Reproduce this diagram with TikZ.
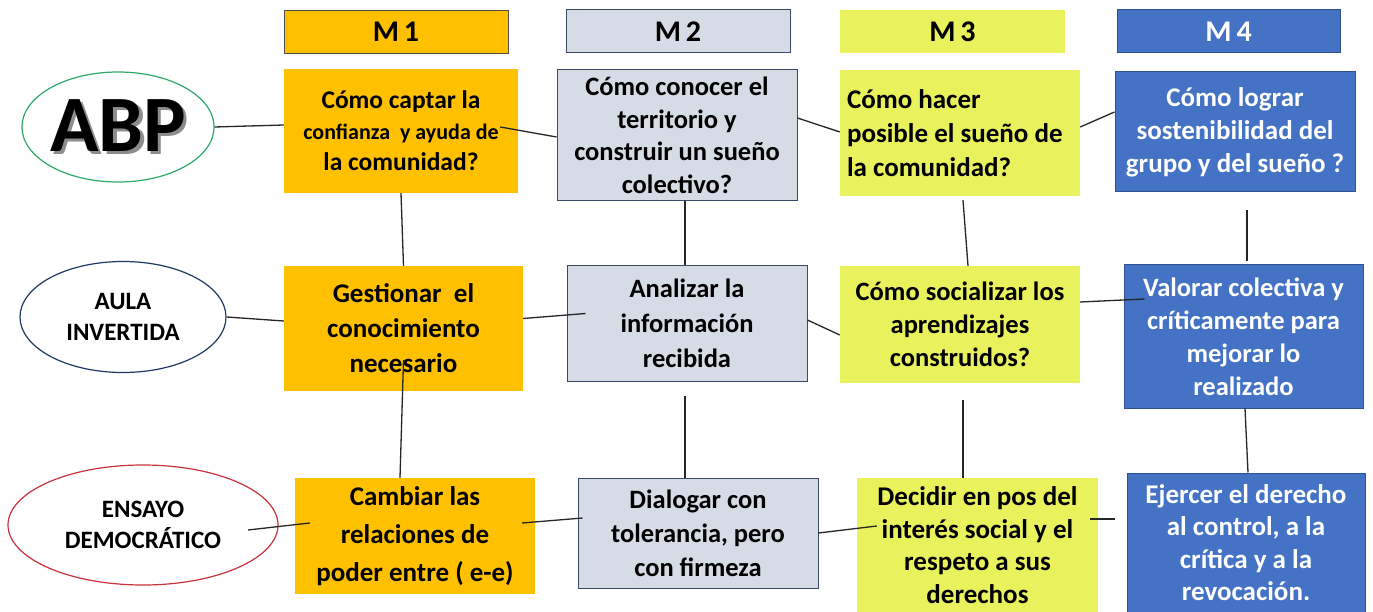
\documentclass[tikz,border=0pt]{standalone}
\usepackage{fontspec}
\setmainfont{Carlito}
\usetikzlibrary{shapes.geometric,calc}
\definecolor{orng}{HTML}{FFC000}
\definecolor{gryb}{HTML}{D6DCE5}
\definecolor{grybd}{HTML}{3B4A66}
\definecolor{ylw}{HTML}{E9F25C}
\definecolor{blu}{HTML}{4472C4}
\definecolor{blud}{HTML}{2F528F}
\definecolor{grn}{HTML}{2EA86A}
\definecolor{nvy}{HTML}{1F3864}
\definecolor{rd}{HTML}{C8323A}
\tikzset{
  bx/.style={rectangle, inner sep=0pt, align=center, font=\bfseries\fontsize{26.5}{33}\selectfont},
  hd/.style={bx, minimum height=43pt, font=\bfseries\fontsize{30}{32}\selectfont},
  orb/.style={fill=orng},
  grb/.style={fill=gryb, draw=grybd, line width=1pt},
  ylb/.style={fill=ylw},
  blb/.style={fill=blu, draw=blud, line width=1pt, text=white},
  ell/.style={ellipse, inner sep=0pt, line width=1.2pt, fill=white, align=center, font=\bfseries\fontsize{25}{31}\selectfont},
  cn/.style={line width=1.3pt, draw=black!85}
}
\begin{document}
\begin{tikzpicture}[x=1pt,y=-1pt]
\useasboundingbox (0,0) rectangle (1373,612);
% headers
\node[hd, orb, draw=black!70, line width=0.8pt, minimum width=224pt] (h1) at (396,31.5) {M\,1};
\node[hd, grb, minimum width=224pt] (h2) at (678,31.5) {M\,2};
\node[hd, ylb, minimum width=225pt] (h3) at (952.5,31.5) {M\,3};
\node[hd, blb, minimum width=223pt] (h4) at (1228.5,31.5) {M\,4};
% row 1
\node[bx, orb, minimum width=234pt, minimum height=124pt, font=\bfseries\fontsize{25.5}{31}\selectfont] (a1) at (401,131) {Cómo captar la\\{\fontsize{22}{31}\selectfont confianza \ y ayuda de}\\la comunidad?};
\node[bx, grb, minimum width=240pt, minimum height=131pt, font=\bfseries\fontsize{26.5}{32.5}\selectfont] (b1) at (677,135.5) {Cómo conocer el\\territorio y\\construir un sueño\\colectivo?};
\node[bx, ylb, minimum width=240pt, minimum height=126pt, text width=226pt, align=flush left, font=\bfseries\fontsize{27}{34}\selectfont] (c1) at (960,133) {Cómo hacer\\posible el sueño de\\la comunidad?};
\node[bx, blb, minimum width=240pt, minimum height=120pt, font=\bfseries\fontsize{27}{33}\selectfont] (d1) at (1235,132) {Cómo lograr\\sostenibilidad del\\grupo y del sueño ?};
% row 2
\node[bx, orb, minimum width=239pt, minimum height=125pt, font=\bfseries\fontsize{27}{35}\selectfont] (a2) at (403.5,328.5) {Gestionar \ el\\conocimiento\\necesario};
\node[bx, grb, minimum width=240pt, minimum height=115pt, font=\bfseries\fontsize{26.5}{35}\selectfont] (b2) at (687,323.5) {Analizar la\\información\\recibida};
\node[bx, ylb, minimum width=240pt, minimum height=117pt, font=\bfseries\fontsize{26.5}{33}\selectfont] (c2) at (960,324.5) {Cómo socializar los\\aprendizajes\\construidos?};
\node[bx, blb, minimum width=239pt, minimum height=143pt, font=\bfseries\fontsize{26.5}{33}\selectfont] (d2) at (1243.5,336.5) {Valorar colectiva y\\críticamente para\\mejorar lo\\realizado};
% row 3
\node[bx, orb, minimum width=240pt, minimum height=116pt, font=\bfseries\fontsize{27}{38}\selectfont] (a3) at (415,536) {Cambiar las\\relaciones de\\poder entre ( e-e)};
\node[bx, grb, minimum width=240pt, minimum height=110pt, font=\bfseries\fontsize{26.5}{34}\selectfont] (b3) at (698,533) {Dialogar con\\tolerancia, pero\\con firmeza};
\node[bx, ylb, minimum width=241pt, minimum height=134pt, font=\bfseries\fontsize{27}{32.5}\selectfont] (c3) at (977.5,545) {Decidir en pos del\\interés social y el\\respeto a sus\\derechos};
\node[bx, blb, minimum width=238pt, minimum height=139pt, font=\bfseries\fontsize{27}{32.5}\selectfont] (d3) at (1246,542.5) {Ejercer el derecho\\al control, a la\\crítica y a la\\revocación.};
% ellipses
\node[ell, draw=grn, minimum width=180pt, minimum height=110pt, font=\bfseries\fontsize{80}{80}\selectfont] (abp) at (118,127) {\makebox[0pt][l]{\hspace{3.5pt}\raisebox{-3.5pt}{\textcolor{black!45}{ABP}}}ABP};
\node[ell, draw=nvy, minimum width=206pt, minimum height=111pt] (aula) at (123,317) {AULA\\INVERTIDA};
\node[ell, draw=rd, minimum width=270pt, minimum height=120pt] (ens) at (143,525) {ENSAYO\\DEMOCRÁTICO};
% horizontal connectors
\draw[cn] (abp.east) -- ([yshift=6pt]a1.west);
\draw[cn] ([xshift=-18pt,yshift=4pt]a1.east) -- ([yshift=-1.5pt]b1.west);
\draw[cn] ([yshift=17.5pt]b1.east) -- ([yshift=1pt]c1.west);
\draw[cn] ([yshift=6pt]c1.east) -- ([yshift=20pt]d1.west);
\draw[cn] (aula.east) -- ([yshift=7.5pt]a2.west);
\draw[cn] ([yshift=10pt]a2.east) -- ([xshift=19pt,yshift=10pt]b2.west);
\draw[cn] ([yshift=3.5pt]b2.east) -- ([yshift=-10.5pt]c2.west);
\draw[cn] ([yshift=22.5pt]c2.east) -- ([xshift=21pt,yshift=37.5pt]d2.west);
\draw[cn] ([xshift=105pt,yshift=-5pt]ens.center) -- ([xshift=15pt,yshift=13pt]a3.west);
\draw[cn] ([xshift=-13pt,yshift=13pt]a3.east) -- ([xshift=5pt,yshift=15pt]b3.west);
\draw[cn] (b3.east) -- ([xshift=20pt,yshift=19pt]c3.west);
\draw[cn] ([xshift=-8pt,yshift=26pt]c3.east) -- ([xshift=-12pt,yshift=23.5pt]d3.west);
% vertical connectors
\draw[cn] (a1.south) -- (a2.north);
\draw[cn] ([yshift=31pt]a2.south) -- ([xshift=-15pt]a3.north);
\draw[cn] ([xshift=8pt]b1.south) -- ([xshift=-2pt]b2.north);
\draw[cn] ([xshift=-2pt,yshift=-14pt]b2.south) -- ([xshift=-13pt]b3.north);
\draw[cn] ([xshift=3pt,yshift=-4pt]c1.south) -- ([xshift=8pt]c2.north);
\draw[cn] ([xshift=3pt,yshift=-17pt]c2.south) -- ([xshift=-14.5pt]c3.north);
\draw[cn] ([xshift=12pt,yshift=-18pt]d1.south) -- ([xshift=3.5pt,yshift=3pt]d2.north);
\draw[cn] ([xshift=1.5pt]d2.south) -- ([xshift=2pt]d3.north);
\end{tikzpicture}
\end{document}
